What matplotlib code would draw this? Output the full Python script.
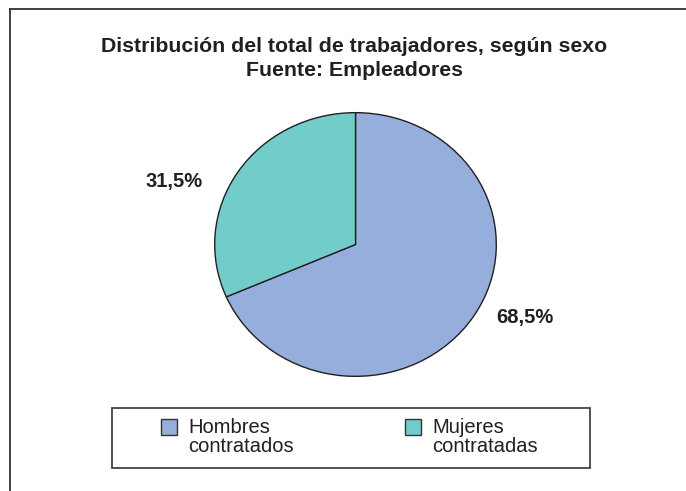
import matplotlib.pyplot as plt
from matplotlib.lines import Line2D
from matplotlib.patches import Rectangle

plt.rcParams['font.family'] = ['Liberation Sans', 'DejaVu Sans']

categorias = ['Hombres\ncontratados', 'Mujeres\ncontratadas']
valores = [68.5, 31.5]
colores = ['#95aedb', '#72ccca']
etiquetas = ['68,5%', '31,5%']

W, H = 686, 491
TXT = '#231f20'
fig = plt.figure(figsize=(W / 100, H / 100), dpi=100)


def fx(px):
    return px / W


def fy(py):
    return 1 - py / H


# marco (solo arriba e izquierda)
fig.add_artist(Line2D([fx(10), fx(10)], [0, fy(9)], color='#333333', lw=1.3))
fig.add_artist(Line2D([fx(10), 1], [fy(9), fy(9)], color='#333333', lw=1.3))

fig.text(fx(354), fy(47), 'Distribución del total de trabajadores, según sexo',
         ha='center', va='center', fontsize=15.3, fontweight='bold', color=TXT)
fig.text(fx(354), fy(71), 'Fuente: Empleadores',
         ha='center', va='center', fontsize=15.3, fontweight='bold', color=TXT)

# pie (ligeramente ovalado como el original)
ax = fig.add_axes([fx(214), fy(377), 283 / W, 265 / H])
wedges, _ = ax.pie(valores, colors=colores, startangle=90, counterclock=False,
                   wedgeprops=dict(edgecolor=TXT, linewidth=1.0))
ax.set_aspect('auto')
ax.set_xlim(-1.005, 1.005)
ax.set_ylim(-1.005, 1.005)

fig.text(fx(525), fy(318), etiquetas[0], ha='center', va='center',
         fontsize=14.5, fontweight='bold', color=TXT)
fig.text(fx(174), fy(182), etiquetas[1], ha='center', va='center',
         fontsize=14.5, fontweight='bold', color=TXT)

# leyenda dibujada a mano
fig.add_artist(Rectangle((fx(112), fy(468)), (590 - 112) / W, (468 - 408) / H,
                         transform=fig.transFigure, facecolor='white',
                         edgecolor='#444444', lw=1.3))
xs_patch = [161, 405]
for x0, c, lab in zip(xs_patch, colores, categorias):
    fig.add_artist(Rectangle((fx(x0), fy(435)), 16 / W, 16 / H,
                             transform=fig.transFigure, facecolor=c,
                             edgecolor='#333333', lw=1.0))
    fig.text(fx(x0 + 27), fy(437), lab, ha='left', va='center', fontsize=14.5,
             color=TXT, linespacing=0.95)

fig.savefig('out.png', dpi=100)
